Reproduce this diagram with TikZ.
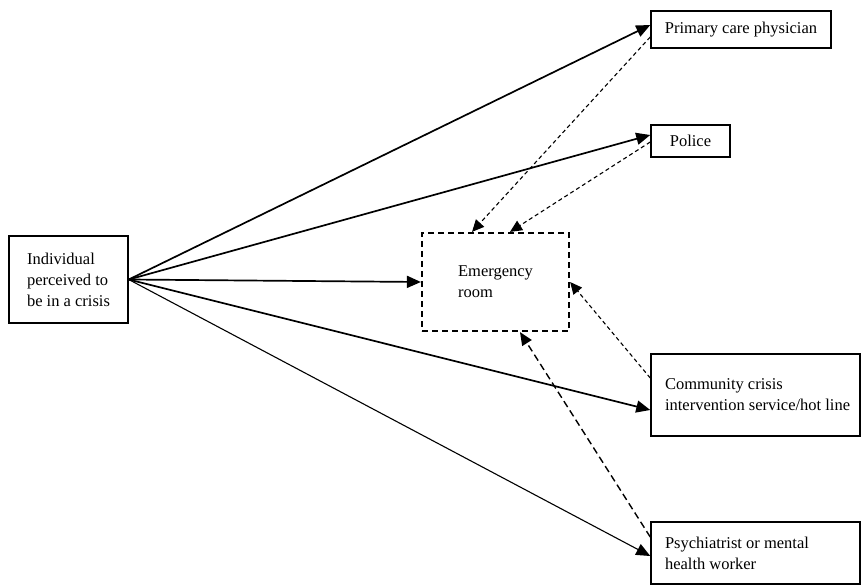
\documentclass[tikz,border=0pt]{standalone}
\usepackage{fontspec}
\setmainfont{Liberation Serif}
\usetikzlibrary{arrows.meta}
\begin{document}
\begin{tikzpicture}[x=1pt,y=-1pt,
  box/.style={draw,line width=1.5pt,align=left,inner sep=0pt,
    font=\fontsize{16.5}{21}\selectfont},
  widebox/.style={box,align=flush left,text width=181pt,inner xsep=14pt,minimum width=209pt},
  solidarrow/.style={line width=1.7pt,-{Triangle[length=14pt,width=12pt]}},
  thinarrow/.style={line width=1.1pt,-{Triangle[length=14pt,width=12pt]}},
  dasharrow/.style={line width=1.1pt,dash pattern=on 4pt off 3pt,-{Triangle[length=12pt,width=11pt]}},
  widedash/.style={line width=1.4pt,dash pattern=on 7pt off 4pt,-{Triangle[length=13pt,width=11pt]}}]
\useasboundingbox (0,0) rectangle (861,585);
\node[box,minimum width=119pt,minimum height=87pt] (ind) at (68.5,279.5) {Individual\\perceived to\\be in a crisis};
\node[box,line width=2.2pt,dash pattern=on 6pt off 4pt,minimum width=147pt,minimum height=98pt] (er) at (495.5,282) {Emergency\\room};
\node[box,minimum width=180pt,minimum height=37pt] (pcp) at (741,29.5) {Primary care physician};
\node[box,minimum width=79pt,minimum height=32pt] (pol) at (690.5,141) {Police};
\node[widebox,minimum height=82pt] (cci) at (755.5,395) {\mbox{Community crisis}\\\mbox{intervention service/hot line}};
\node[widebox,minimum height=62pt] (psy) at (755.5,553) {\mbox{Psychiatrist or mental}\\\mbox{health worker}};
\coordinate (src) at (ind.east);
\draw[solidarrow] (src) -- ([yshift=4.5pt]pcp.west);
\draw[solidarrow] (src) -- ([yshift=6pt]pol.west);
\draw[solidarrow] (src) -- (er.west);
\draw[solidarrow] (src) -- ([yshift=-15pt]cci.west);
\draw[thinarrow] (src) -- ([yshift=-3pt]psy.west);
\draw[dasharrow] ([yshift=-7.5pt]pcp.west) -- ([xshift=-23.5pt]er.north);
\draw[dasharrow] ([yshift=-1pt]pol.west) -- ([xshift=14.5pt]er.north);
\draw[dasharrow] ([yshift=17pt]cci.west) -- (er.east);
\draw[widedash] ([yshift=16pt]psy.west) -- ([xshift=24.5pt]er.south);
\end{tikzpicture}
\end{document}
